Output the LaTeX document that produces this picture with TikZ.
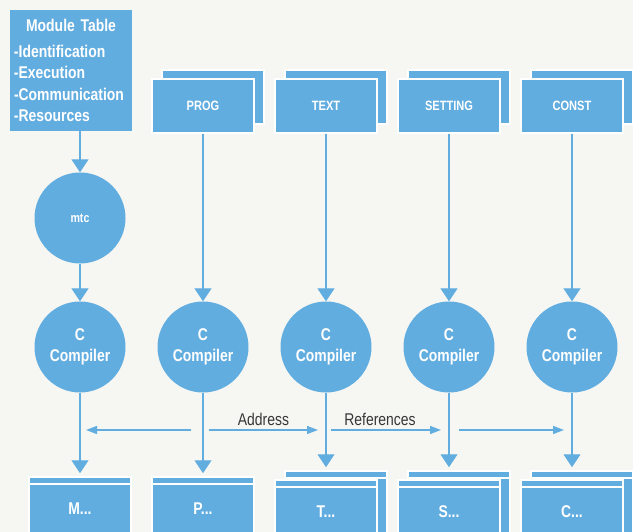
\documentclass[tikz,border=0pt]{standalone}
\usepackage{fontspec}
\setmainfont{Liberation Sans}[FakeStretch=0.82]
\usetikzlibrary{shapes.geometric, arrows.meta, positioning, calc}
\definecolor{boxblue}{RGB}{98,173,224}
\definecolor{paper}{RGB}{246,247,243}
\definecolor{inkgrey}{RGB}{55,55,55}
\tikzstyle{modtable} = [
  rectangle,
  minimum width=122pt,
  minimum height=121pt,
  text width=114pt,
  inner sep=4pt,
  align=left,
  fill=boxblue,
  text=white,
  font=\fontsize{17}{21.5}\selectfont\bfseries
]
\tikzstyle{srcfile} = [
  rectangle,
  minimum width=102pt,
  minimum height=54pt,
  draw=white,
  line width=1.5pt,
  fill=boxblue,
  text=white,
  font=\fontsize{13.5}{16}\selectfont\bfseries
]
\tikzstyle{compiler} = [
  circle,
  minimum size=91pt,
  inner sep=0pt,
  align=center,
  fill=boxblue,
  text=white,
  font=\fontsize{17}{21}\selectfont\bfseries
]
\tikzstyle{objfile} = [
  rectangle,
  minimum width=102pt,
  minimum height=63pt,
  draw=white,
  line width=1.5pt,
  fill=boxblue,
  text=white,
  font=\fontsize{17}{19}\selectfont\bfseries,
  path picture={\draw [white, line width=2pt]
    ([yshift=-7pt]path picture bounding box.north west) --
    ([yshift=-7pt]path picture bounding box.north east);}
]
\tikzstyle{arrow} = [line width=1.2pt, draw=boxblue, ->, >={Triangle[width=17pt,length=13pt]}]
\tikzstyle{refarrow} = [line width=1.2pt, draw=boxblue, ->, >={Triangle[width=8pt,length=11pt]},
  text=inkgrey, font=\fontsize{17}{19}\selectfont]
\pgfdeclarelayer{background}
\pgfsetlayers{background,main}

\begin{document}
\begin{tikzpicture}[x=1pt, y=-1pt, node distance=123pt]
    \useasboundingbox (0,0) rectangle (633,532);
    \node (table) [modtable] at (71,70.5) {\makebox[114pt][c]{Module Table}\\[4pt]
      -Identification\\ -Execution\\ -Communication\\ -Resources};
    \node (prog) [srcfile, right of=table, xshift=9pt, yshift=-35.5pt] {PROG};
    \node (text) [srcfile, right of=prog] {TEXT};
    \node (setting) [srcfile, right of=text] {SETTING};
    \node (const) [srcfile, right of=setting] {CONST};
    \node (mtc) [compiler, below of=table, xshift=9pt, yshift=-24.5pt,
      font=\fontsize{13}{15}\selectfont\bfseries] {mtc};
    \node (cc1) [compiler, below of=mtc, yshift=-6pt] {C\\Compiler};
    \node (cc2) [compiler, right of=cc1] {C\\Compiler};
    \node (cc3) [compiler, right of=cc2] {C\\Compiler};
    \node (cc4) [compiler, right of=cc3] {C\\Compiler};
    \node (cc5) [compiler, right of=cc4] {C\\Compiler};
    \node (pm) [objfile, below of=cc1, yshift=-38.5pt] {M...};
    \node (pp) [objfile, below of=cc2, yshift=-38.5pt] {P...};
    \node (pt) [objfile, below of=cc3, yshift=-41.5pt] {T...};
    \node (ps) [objfile, below of=cc4, yshift=-41.5pt] {S...};
    \node (pc) [objfile, below of=cc5, yshift=-41.5pt] {C...};

    % pages lying behind
    \begin{pgfonlayer}{background}
      \fill [paper] (0,0) rectangle (633,532);
      \node (prog-b) [srcfile] at ([xshift=10pt,yshift=9pt]prog.center) {};
      \node (text-b) [srcfile] at ([xshift=10pt,yshift=9pt]text.center) {};
      \node (setting-b) [srcfile] at ([xshift=10pt,yshift=9pt]setting.center) {};
      \node (const-b) [srcfile] at ([xshift=10pt,yshift=9pt]const.center) {};
      \node (pt-b) [objfile] at ([xshift=10pt,yshift=9pt]pt.center) {};
      \node (ps-b) [objfile] at ([xshift=10pt,yshift=9pt]ps.center) {};
      \node (pc-b) [objfile] at ([xshift=10pt,yshift=9pt]pc.center) {};
    \end{pgfonlayer}

    \draw [arrow] (table.south -| mtc) -- (mtc);
    \draw [arrow] (mtc) -- (cc1);
    \draw [arrow] (prog) -- (cc2);
    \draw [arrow] (text) -- (cc3);
    \draw [arrow] (setting) -- (cc4);
    \draw [arrow] (const) -- (cc5);
    \draw [arrow, shorten >=3pt] (cc1) -- (pm);
    \draw [arrow, shorten >=3pt] (cc2) -- (pp);
    \draw [arrow, shorten >=3pt] (cc3) -- (cc3 |- pt-b.north);
    \draw [arrow, shorten >=3pt] (cc4) -- (cc4 |- ps-b.north);
    \draw [arrow, shorten >=3pt] (cc5) -- (cc5 |- pc-b.north);

    \coordinate (refrow) at (0,430);
    \draw [refarrow] ($(refrow -| cc2)+(-12,0)$) -- ($(refrow -| cc1)+(6,0)$);
    \draw [refarrow] ($(refrow -| cc2)+(6,0)$) -- node [above] {Address} ($(refrow -| cc3)+(-8,0)$);
    \draw [refarrow] ($(refrow -| cc3)+(5,0)$) -- node [above, xshift=-6pt] {References} ($(refrow -| cc4)+(-8,0)$);
    \draw [refarrow] ($(refrow -| cc4)+(10,0)$) -- ($(refrow -| cc5)+(-8,0)$);
  \end{tikzpicture}
\end{document}
